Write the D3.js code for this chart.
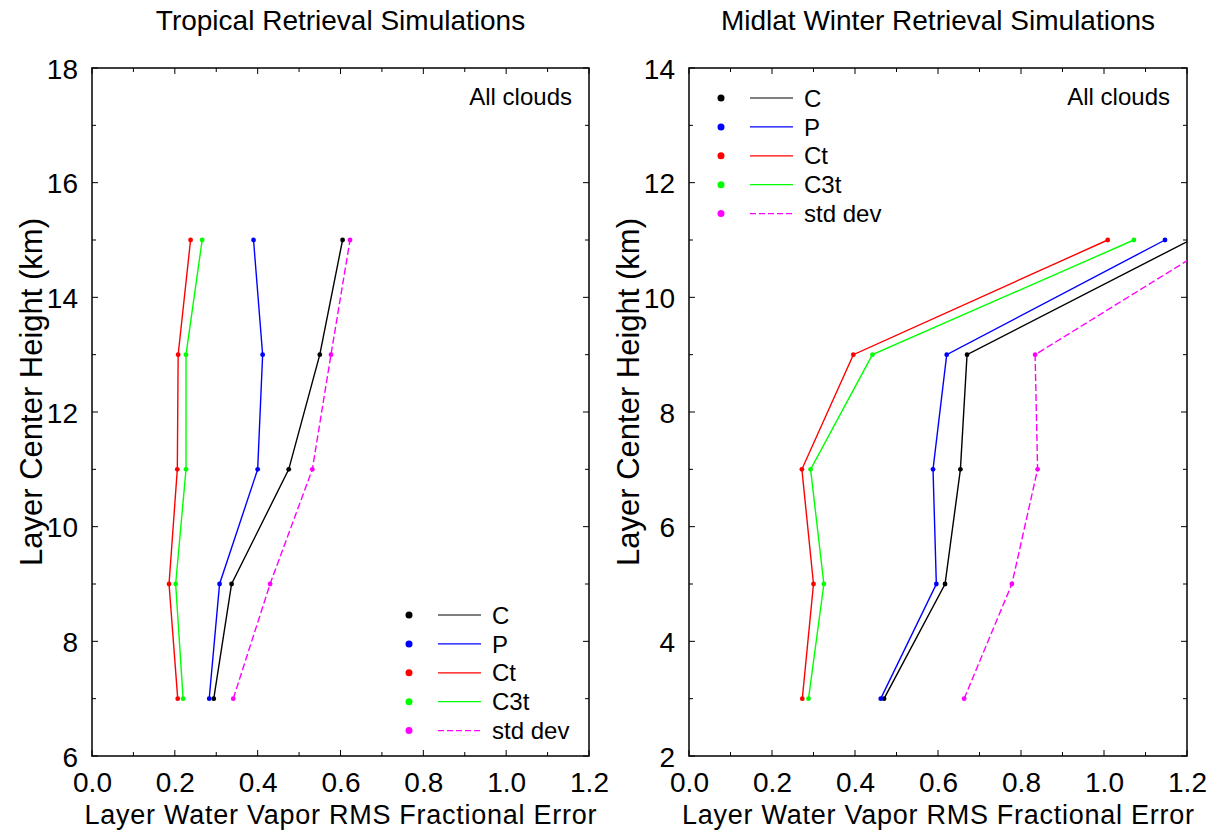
<!DOCTYPE html>
<html>
<head>
<meta charset="utf-8">
<script src="https://cdn.jsdelivr.net/npm/d3@7"></script>
<style>
  html, body { margin: 0; padding: 0; background: #fff; }
  svg { display: block; font-family: "Liberation Sans", Arial, Helvetica, sans-serif; }
</style>
</head>
<body>
<svg id="chart" width="1214" height="830"></svg>
<script>
// ---------------- data ----------------
const seriesNames = ["C", "P", "Ct", "C3t", "std dev"];
const seriesColors = ["#000000", "#0000ff", "#ff0000", "#00ff00", "#ff00ff"];

// Tropical panel
const tropHeights = [7, 9, 11, 13, 15];
const tropC      = [0.294, 0.337, 0.475, 0.550, 0.605];
const tropP      = [0.283, 0.308, 0.400, 0.412, 0.390];
const tropCt     = [0.207, 0.186, 0.206, 0.208, 0.238];
const tropC3t    = [0.220, 0.202, 0.227, 0.227, 0.266];
const tropStd    = [0.341, 0.430, 0.532, 0.577, 0.623];

// Midlat winter panel
const midHeights = [3, 5, 7, 9, 11];
const midC       = [0.470, 0.617, 0.654, 0.670, 1.208];
const midP       = [0.462, 0.596, 0.588, 0.621, 1.147];
const midCt      = [0.273, 0.300, 0.272, 0.396, 1.009];
const midC3t     = [0.288, 0.325, 0.293, 0.442, 1.072];
const midStd     = [0.663, 0.778, 0.840, 0.834, 1.281];

const xTicks = [0.0, 0.2, 0.4, 0.6, 0.8, 1.0, 1.2];
const tropYTicks = [6, 8, 10, 12, 14, 16, 18];
const midYTicks = [2, 4, 6, 8, 10, 12, 14];

const xLabel = "Layer Water Vapor RMS Fractional Error";
const yLabel = "Layer Center Height (km)";
const panelNote = "All clouds";

// ---------------- drawing ----------------
const svg = d3.select("#chart");

function panel(opts) {
  const { left, right, top, bottom, yDomain, yTicks, heights, series, title, legendPos, clipId } = opts;
  const x = d3.scaleLinear().domain([0, 1.2]).range([left, right]);
  const y = d3.scaleLinear().domain(yDomain).range([bottom, top]);
  const g = svg.append("g");

  svg.append("defs").append("clipPath").attr("id", clipId)
    .append("rect").attr("x", left).attr("y", top).attr("width", right - left).attr("height", bottom - top);

  const xMinor = d3.range(0, 13).map(i => i / 10);
  const yMinor = d3.range(yDomain[0], yDomain[1] + 1, 1);

  const bottomAxis = d3.axisBottom(x).tickValues(xTicks).tickFormat(d3.format(".1f")).tickSizeInner(0).tickSizeOuter(0).tickPadding(0);
  const ax = g.append("g").attr("transform", `translate(0,${bottom})`).call(bottomAxis);
  ax.select(".domain").remove();
  ax.selectAll("text").attr("y", 36).attr("dy", null).attr("font-size", 28).attr("fill", "#000")
    .attr("font-family", "Liberation Sans, Arial, sans-serif");

  const leftAxis = d3.axisLeft(y).tickValues(yTicks).tickFormat(d3.format("d")).tickSizeInner(0).tickSizeOuter(0).tickPadding(14);
  const ay = g.append("g").attr("transform", `translate(${left},0)`).call(leftAxis);
  ay.select(".domain").remove();
  ay.selectAll("text").attr("font-size", 28).attr("fill", "#000").attr("dy", "0.36em")
    .attr("font-family", "Liberation Sans, Arial, sans-serif");

  const tk = g.append("g").attr("stroke", "#000").attr("stroke-width", 1);
  xMinor.forEach((v, i) => {
    const len = (i % 2 === 0) ? 6 : 4;
    const px = x(v);
    tk.append("line").attr("x1", px).attr("x2", px).attr("y1", bottom).attr("y2", bottom - len);
    tk.append("line").attr("x1", px).attr("x2", px).attr("y1", top).attr("y2", top + len);
  });
  yMinor.forEach((v, i) => {
    const len = (i % 2 === 0) ? 6 : 4;
    const py = y(v);
    tk.append("line").attr("x1", left).attr("x2", left + len).attr("y1", py).attr("y2", py);
    tk.append("line").attr("x1", right).attr("x2", right - len).attr("y1", py).attr("y2", py);
  });

  g.append("rect").attr("x", left).attr("y", top).attr("width", right - left).attr("height", bottom - top)
    .attr("fill", "none").attr("stroke", "#000").attr("stroke-width", 1.5);

  const dg = g.append("g").attr("clip-path", `url(#${clipId})`);
  const line = d3.line().x(d => x(d[0])).y(d => y(d[1]));
  series.forEach((vals, si) => {
    const pts = vals.map((v, i) => [v, heights[i]]);
    dg.append("path").attr("d", line(pts)).attr("fill", "none")
      .attr("stroke", seriesColors[si]).attr("stroke-width", 1.4)
      .attr("stroke-dasharray", si === 4 ? "7,3" : null);
    dg.selectAll(null).data(pts).enter().append("circle")
      .attr("cx", d => x(d[0])).attr("cy", d => y(d[1])).attr("r", 2.4)
      .attr("fill", seriesColors[si]);
  });

  g.append("text").attr("x", (left + right) / 2).attr("y", 30).attr("text-anchor", "middle")
    .attr("font-size", 28).text(title);
  g.append("text").attr("x", (left + right) / 2).attr("y", 824).attr("text-anchor", "middle")
    .attr("font-size", 27).attr("textLength", 512).attr("lengthAdjust", "spacing").text(xLabel);
  g.append("text").attr("transform", `translate(${left - 50},${(top + bottom) / 2 - 20}) rotate(-90)`)
    .attr("text-anchor", "middle").attr("font-size", 31).text(yLabel);
  g.append("text").attr("x", right - 17).attr("y", 105).attr("text-anchor", "end")
    .attr("font-size", 24).text(panelNote);

  const lg = g.append("g");
  seriesNames.forEach((name, i) => {
    const ry = legendPos.y + i * 28.9;
    lg.append("circle").attr("cx", legendPos.x).attr("cy", ry).attr("r", 3.5).attr("fill", seriesColors[i]);
    lg.append("line").attr("x1", legendPos.x + 29).attr("x2", legendPos.x + 72).attr("y1", ry).attr("y2", ry)
      .attr("stroke", seriesColors[i]).attr("stroke-width", 1.2)
      .attr("stroke-dasharray", i === 4 ? "6,3" : null);
    lg.append("text").attr("x", legendPos.x + 83).attr("y", ry).attr("dy", "0.36em")
      .attr("font-size", 24).text(name);
  });
}

panel({
  left: 92, right: 589, top: 68, bottom: 756,
  yDomain: [6, 18], yTicks: tropYTicks, heights: tropHeights,
  series: [tropC, tropP, tropCt, tropC3t, tropStd],
  title: "Tropical Retrieval Simulations",
  legendPos: { x: 409, y: 615 }, clipId: "clipL"
});
panel({
  left: 689, right: 1187, top: 68, bottom: 756,
  yDomain: [2, 14], yTicks: midYTicks, heights: midHeights,
  series: [midC, midP, midCt, midC3t, midStd],
  title: "Midlat Winter Retrieval Simulations",
  legendPos: { x: 721, y: 98 }, clipId: "clipR"
});
</script>
</body>
</html>
